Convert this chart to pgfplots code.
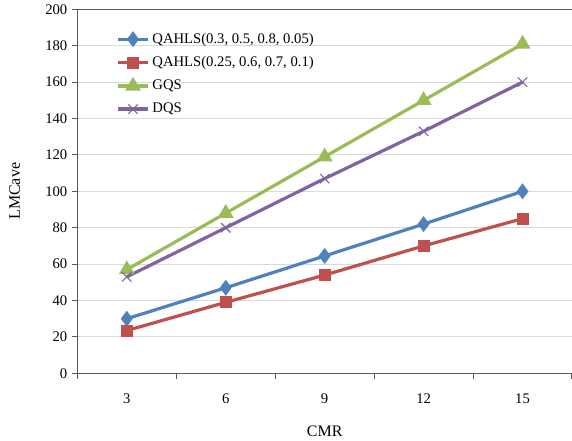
\documentclass[border=0pt]{standalone}
\usepackage{pgfplots}
\pgfplotsset{compat=1.18}
\usepackage{fontspec}
\setmainfont{Liberation Serif}
\definecolor{cblue}{HTML}{4F81BD}
\definecolor{cred}{HTML}{C0504D}
\definecolor{cgreen}{HTML}{9BBB59}
\definecolor{cpurple}{HTML}{8064A2}
\definecolor{gridc}{HTML}{D9D9D9}
\begin{document}
\begin{tikzpicture}
\useasboundingbox (-58pt,-50pt) rectangle (371pt,280pt);
\begin{axis}[
  scale only axis, width=371pt, height=273pt,
  xmin=-0.5, xmax=4.5, ymin=0, ymax=200,
  xtick={0,1,2,3,4}, xticklabels={3,6,9,12,15},
  minor xtick={-0.5,0.5,1.5,2.5,3.5,4.5},
  ytick={0,20,...,200},
  major x tick style={draw=none},
  minor x tick style={draw=gray!70!black, thick},
  y tick style={draw=gray!70!black, thick},
  tick align=outside, major tick length=4pt, minor tick length=4pt,
  ymajorgrids, grid style={gridc, line width=0.8pt},
  axis line style={draw=gray!70!black, line width=1pt},
  axis x line*=bottom, axis y line*=left,
  tick label style={font=\fontsize{11}{13}\selectfont},
  /pgf/number format/assume math mode=true,
  xticklabel style={yshift=-8pt},
  xlabel={CMR}, ylabel={LMCave},
  label style={font=\fontsize{12}{14}\selectfont},
  xlabel style={yshift=-10pt},
  ylabel style={yshift=12pt},
  legend style={draw=none, fill=none, at={(0.07,0.95)}, anchor=north west,
    font=\fontsize{11}{13}\selectfont, row sep=4.5pt},
  legend cell align=left,
  legend image code/.code={\draw[#1, line width=2.4pt] (0cm,0cm) -- (0.8cm,0cm); \draw[#1, mark repeat=1] plot coordinates {(0.4cm,0cm)};},
  every axis plot/.append style={line width=2.4pt},
]
\addplot[cblue, mark=diamond*, mark size=4pt, mark options={solid}] coordinates {(0,30) (1,47) (2,64.5) (3,82) (4,100)};
\addlegendentry{QAHLS(0.3, 0.5, 0.8, 0.05)}
\addplot[cred, mark=square*, mark size=3.3pt] coordinates {(0,23.5) (1,39) (2,54) (3,70) (4,85)};
\addlegendentry{QAHLS(0.25, 0.6, 0.7, 0.1)}
\addplot[cgreen, mark=triangle*, mark size=4.5pt] coordinates {(0,57) (1,88) (2,119) (3,150) (4,181)};
\addlegendentry{GQS}
\addplot[cpurple, mark=x, mark size=5pt, mark options={line width=0.8pt}] coordinates {(0,53) (1,80) (2,107) (3,133) (4,160)};
\addlegendentry{DQS}
\draw[gray!70!black, line width=1pt] (axis cs:-0.5,200) -- (axis cs:4.5,200);
\end{axis}
\end{tikzpicture}
\end{document}
